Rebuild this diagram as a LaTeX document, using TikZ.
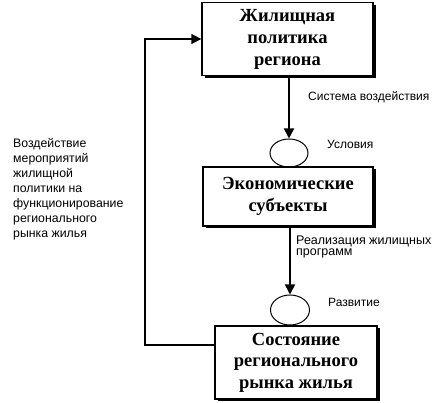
\documentclass[tikz,border=0pt]{standalone}
\usepackage{fontspec}
\setmainfont{Liberation Serif}
\newfontfamily\lblfont{Liberation Sans}
\usetikzlibrary{arrows.meta}
\usetikzlibrary{shapes.geometric}
\usetikzlibrary{shadows}

\begin{document}
\begin{tikzpicture}[x=1pt,y=-1pt,
  box/.style={draw,line width=1.3pt,fill=white,align=center,inner sep=0pt,
    font=\fontsize{18.5}{22}\selectfont\bfseries,
    drop shadow={shadow xshift=2.5pt,shadow yshift=-2.5pt,fill=black,opacity=1}},
  oval/.style={draw,ellipse,line width=1pt,inner sep=0pt},
  lbl/.style={anchor=west,align=left,inner sep=0pt,font=\lblfont\fontsize{12}{11}\selectfont},
  arr/.style={line width=1.6pt,-{Triangle[length=10pt,width=10pt]}}]
  \useasboundingbox (0,0) rectangle (440,403);

  % Boxes
  \node[box,minimum width=171pt,minimum height=73pt] (policy) at (287.5,39)
    {Жилищная\\политика\\региона};
  \node[box,minimum width=170pt,minimum height=59pt] (subjects) at (288,196.5)
    {Экономические\\субъекты};
  \node[box,minimum width=162pt,minimum height=73pt,
    font=\fontsize{18.5}{21.5}\selectfont\bfseries] (market) at (296,362.5)
    {Состояние\\регионального\\рынка жилья};

  % Ovals
  \node[oval,minimum width=38pt,minimum height=28pt] (cond) at (289,153) {};
  \node[oval,minimum width=39pt,minimum height=30pt] (dev) at (290,310) {};

  % Arrows
  \draw[arr] (policy.south -| cond.north) -- (cond.north);
  \draw[arr] (subjects.south -| dev.north) -- (dev.north);

  % Feedback loop
  \coordinate (fbA) at (145,345);
  \coordinate (fbB) at (145,39);
  \draw[arr] (fbA -| market.west) -- (fbA) -- (fbB) -- (fbB -| policy.west);

  % Labels
  \node[lbl] (sys) at (308,97) {Система воздействия};
  \node[lbl] (condlbl) at (327,144) {Условия};
  \node[lbl,font=\lblfont\fontsize{12.5}{11}\selectfont] (real) at (296,247)
    {Реализация жилищных\\программ};
  \node[lbl] (devlbl) at (328,302) {Развитие};
  \node[lbl,font=\lblfont\fontsize{12.3}{15}\selectfont] (impact) at (13,189)
    {Воздействие\\мероприятий\\жилищной\\политики на\\функционирование\\регионального\\рынка жилья};
\end{tikzpicture}
\end{document}
